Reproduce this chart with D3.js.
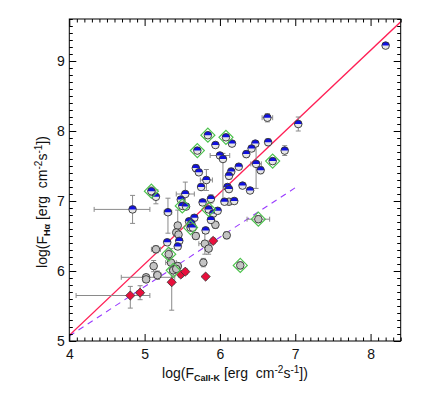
<!DOCTYPE html>
<html><head><meta charset="utf-8">
<script src="https://cdn.jsdelivr.net/npm/d3@7/dist/d3.min.js"></script>
<style>body{margin:0;background:#fff}svg{display:block}</style>
</head><body>
<svg id="c" width="436" height="406"></svg>
<script>
// ---- data ----
const xTicks = [4, 5, 6, 7, 8];
const yTicks = [5, 6, 7, 8, 9];
// blue half-filled circles: x, y, x error, y error ([minus, plus] or symmetric)
const blueX = [8.20, 7.04, 6.63, 6.86, 6.64, 6.47, 6.42, 6.35, 6.48, 6.54, 6.70, 6.25, 6.30, 6.40,
  5.84, 6.08, 6.16, 5.94, 5.70, 6.00, 6.04, 6.15, 6.12, 6.10, 6.12, 5.68, 5.72, 5.82, 5.75, 5.88,
  5.77, 6.06, 6.19, 5.09, 5.15, 4.84, 5.31, 5.54, 5.48, 5.50, 5.55, 5.85, 5.91, 5.97, 5.88, 5.66,
  5.59, 5.62, 5.61, 5.64, 5.81, 5.30, 5.46, 5.44];
const blueY = [9.22, 8.10, 8.19, 7.72, 7.84, 7.82, 7.75, 7.67, 7.53, 7.44, 7.57, 7.49, 7.22, 7.15,
  7.94, 7.91, 7.82, 7.80, 7.72, 7.65, 7.60, 7.42, 7.36, 7.20, 7.17, 7.47, 7.41, 7.30, 7.20, 7.03,
  6.98, 6.99, 7.00, 7.14, 7.06, 6.88, 6.84, 7.10, 7.02, 6.93, 6.92, 6.88, 6.82, 6.86, 6.73, 6.76,
  6.71, 6.68, 6.62, 6.62, 6.58, 6.41, 6.43, 6.35];
const blueXErr = [0, 0.03, 0.07, 0.03, 0.03, 0.03, 0.03, 0.03, 0.07, 0.03, 0.03, 0.03, 0.03, 0.03,
  0.03, 0.03, 0.03, 0.03, 0.03, 0.13, 0.03, 0.03, 0.03, 0.03, 0.03, 0.03, 0.03, 0.08, 0.03, 0.03,
  0.03, 0.03, 0.03, 0.04, 0.03, [0.51, 0.23], 0.05, 0.12, 0.03, 0.03, 0.03, 0.03, 0.03, 0.03, 0.03, 0.03,
  0.03, 0.03, 0.03, 0.03, 0.03, 0.03, 0.03, 0.03];
const blueYErr = [0, 0.10, 0.06, 0.07, 0.05, 0.04, 0.04, 0.05, [0.35, 0.25], 0.05, 0.04, 0.04, 0.04, 0.04,
  0.04, 0.04, 0.03, 0.03, 0.03, 0.03, [0.6, 0.08], 0.05, 0.05, 0.04, 0.04, 0.05, 0.04, 0.15, 0.04, 0.06,
  0.04, 0.03, 0.03, 0.06, 0.10, 0.20, [0.3, 0.2], 0.17, 0.04, 0.04, 0.04, 0.04, 0.04, 0.04, 0.04, 0.04,
  0.04, 0.04, 0.04, 0.04, 0.04, 0.04, 0.04, 0.04];
// grey circles
const greyX = [6.12, 5.44, 5.42, 5.45, 5.68, 5.94, 6.09, 5.80, 5.85, 5.15, 5.32, 5.78, 5.35, 5.12,
  5.44, 5.38, 5.42, 5.17, 5.02, 5.02, 6.51, 6.27];
const greyY = [6.99, 6.65, 6.55, 6.52, 6.50, 6.66, 6.51, 6.39, 6.32, 6.31, 6.24, 6.12, 6.12, 6.07,
  6.07, 6.01, 6.03, 5.94, 5.91, 5.88, 6.74, 6.08];
const greyXErr = [0.03, 0.03, 0.03, 0.03, 0.03, 0.03, 0.03, 0.08, 0.04, 0.06, 0.03, 0.03, 0.07, 0.03,
  0.04, 0.05, 0.03, 0.05, [0.33, 0.38], 0.03, 0.15, 0.03];
const greyYErr = [0.03, [0.05, 0.22], 0.05, 0.05, 0.05, 0.05, 0.05, 0.15, 0.08, 0.05, 0.06, 0.06, [0.1, 0.2], 0.08,
  0.05, 0.08, 0.05, 0.06, 0.04, 0.04, 0.05, 0.05];
// red diamonds
const redX = [4.81, 4.94, 5.36, 5.48, 5.54, 5.81, 5.91];
const redY = [5.65, 5.69, 5.84, 5.95, 5.99, 5.92, 6.43];
const redXErr = [[0.72, 0.26], 0.04, 0.03, 0.03, 0.03, 0, 0.03];
const redYErr = [[0.18, 0.13], 0.10, [0.4, 0.16], 0.04, 0.04, 0, 0.04];
// green open diamonds (highlighted objects)
const greenX = [5.09, 5.84, 6.08, 5.70, 6.70, 5.50, 5.85, 5.61, 5.32, 5.38, 6.51, 6.27];
const greenY = [7.14, 7.94, 7.91, 7.72, 7.57, 6.93, 6.88, 6.62, 6.24, 6.01, 6.74, 6.08];
// fit lines
const fitRedX = [4.0, 8.4];
const fitRedY = [5.08, 9.56];
const fitPurpleX = [4.0, 7.0];
const fitPurpleY = [5.07, 7.19];

// ---- drawing ----
const svg = d3.select("#c");
const L = 69.3, R = 400.7, T = 19, B = 341;
const x = d3.scaleLinear().domain([4, 8.4]).range([L, R]);
const y = d3.scaleLinear().domain([5, 9.6]).range([B, T]);
const font = "'Liberation Sans', Arial, Helvetica, sans-serif";

svg.append("defs").append("clipPath").attr("id", "clp")
  .append("rect").attr("x", L).attr("y", T).attr("width", R - L).attr("height", B - T);

const minorX = d3.range(40, 85).map(v => v / 10).filter(v => !xTicks.includes(v));
const minorY = d3.range(50, 97).map(v => v / 10).filter(v => v <= 9.6 && !yTicks.includes(v));

function axes() {
  const g = svg.append("g").attr("font-family", font);
  const mk = (axisFn, scale, vals, size, tx, ty, labels) => {
    const a = axisFn(scale).tickValues(vals).tickSize(size).tickPadding(labels ? 8 : 0)
      .tickFormat(labels ? d3.format("d") : () => "");
    const gg = g.append("g").attr("transform", `translate(${tx},${ty})`).call(a);
    gg.select(".domain").remove();
    gg.selectAll("line").attr("stroke", "#000").attr("stroke-width", 1);
    gg.selectAll("text").attr("font-size", 14).attr("fill", "#111").attr("font-family", font);
    return gg;
  };
  mk(d3.axisBottom, x, xTicks, -7, 0, B, true);
  mk(d3.axisBottom, x, minorX, -3.5, 0, B, false);
  mk(d3.axisTop, x, xTicks, -7, 0, T, false);
  mk(d3.axisTop, x, minorX, -3.5, 0, T, false);
  const ly = mk(d3.axisLeft, y, yTicks, -7, L, 0, true);
  ly.selectAll("text").attr("x", -4.5);
  mk(d3.axisLeft, y, minorY, -3.5, L, 0, false);
  mk(d3.axisRight, y, yTicks, -7, R, 0, false);
  mk(d3.axisRight, y, minorY, -3.5, R, 0, false);
  svg.append("rect").attr("x", L).attr("y", T).attr("width", R - L).attr("height", B - T)
    .attr("fill", "none").attr("stroke", "#000").attr("stroke-width", 1);
}

// fit lines
const line = d3.line().x(d => x(d[0])).y(d => y(d[1]));
const plot = svg.append("g").attr("clip-path", "url(#clp)");
plot.append("path").datum(fitRedX.map((v, i) => [v, fitRedY[i]])).attr("d", line)
  .attr("fill", "none").attr("stroke", "#ff1f55").attr("stroke-width", 1.3);
plot.append("path").datum(fitPurpleX.map((v, i) => [v, fitPurpleY[i]])).attr("d", line)
  .attr("fill", "none").attr("stroke", "#9a3cff").attr("stroke-width", 1.1).attr("stroke-dasharray", "6,5");

function pts(xs, ys, xe, ye) {
  return xs.map((v, i) => {
    const ex = Array.isArray(xe[i]) ? xe[i] : [xe[i], xe[i]];
    const ey = Array.isArray(ye[i]) ? ye[i] : [ye[i], ye[i]];
    return { x: v, y: ys[i], ex, ey };
  });
}
const blue = pts(blueX, blueY, blueXErr, blueYErr);
const grey = pts(greyX, greyY, greyXErr, greyYErr);
const red = pts(redX, redY, redXErr, redYErr);

const eg = plot.append("g").attr("stroke", "#8a8a8a").attr("stroke-width", 1).attr("fill", "none");
const cap = 2.5;
[...blue, ...grey, ...red].forEach(d => {
  const cx = x(d.x), cy = y(d.y);
  if (d.ex[0] || d.ex[1]) {
    const x0 = x(d.x - d.ex[0]), x1 = x(d.x + d.ex[1]);
    eg.append("line").attr("x1", x0).attr("x2", x1).attr("y1", cy).attr("y2", cy);
    eg.append("line").attr("x1", x0).attr("x2", x0).attr("y1", cy - cap).attr("y2", cy + cap);
    eg.append("line").attr("x1", x1).attr("x2", x1).attr("y1", cy - cap).attr("y2", cy + cap);
  }
  if (d.ey[0] || d.ey[1]) {
    const y0 = y(d.y - d.ey[0]), y1 = y(d.y + d.ey[1]);
    eg.append("line").attr("x1", cx).attr("x2", cx).attr("y1", y0).attr("y2", y1);
    eg.append("line").attr("x1", cx - cap).attr("x2", cx + cap).attr("y1", y0).attr("y2", y0);
    eg.append("line").attr("x1", cx - cap).attr("x2", cx + cap).attr("y1", y1).attr("y2", y1);
  }
});

const r = 3.8;
const gg = plot.append("g");
grey.forEach(d => {
  gg.append("circle").attr("cx", x(d.x)).attr("cy", y(d.y)).attr("r", r)
    .attr("fill", "#c4c4c4").attr("stroke", "#333").attr("stroke-width", 0.9);
});
blue.forEach(d => {
  const cx = x(d.x), cy = y(d.y);
  gg.append("circle").attr("cx", cx).attr("cy", cy).attr("r", r).attr("fill", "#e6e6e6");
  gg.append("path").attr("d", `M${cx - r},${cy} A${r},${r} 0 0 1 ${cx + r},${cy} Z`).attr("fill", "#1010e0");
  gg.append("circle").attr("cx", cx).attr("cy", cy).attr("r", r)
    .attr("fill", "none").attr("stroke", "#333").attr("stroke-width", 0.9);
});
const dia = (s) => `M0,${-s} L${s},0 L0,${s} L${-s},0 Z`;
red.forEach(d => {
  gg.append("path").attr("d", dia(4.6)).attr("transform", `translate(${x(d.x)},${y(d.y)})`)
    .attr("fill", "#e8103c").attr("stroke", "#333").attr("stroke-width", 0.8);
});
greenX.forEach((v, i) => {
  gg.append("path").attr("d", dia(7)).attr("transform", `translate(${x(v)},${y(greenY[i])})`)
    .attr("fill", "none").attr("stroke", "#4cc24c").attr("stroke-width", 1.2);
});

axes();

// axis titles
const sp = "\u00a0";
function title(t, sub) {
  t.append("tspan").text("log(F");
  t.append("tspan").text(sub).attr("font-size", 9).attr("font-weight", "bold").attr("dy", 3);
  t.append("tspan").text(sp + "[erg" + sp + sp + "cm").attr("dy", -3);
  t.append("tspan").text("-2").attr("font-size", 10).attr("dy", -5);
  t.append("tspan").text("s").attr("dy", 5);
  t.append("tspan").text("-1").attr("font-size", 10).attr("dy", -5);
  t.append("tspan").text("])").attr("dy", 5);
}
const xt = svg.append("text").attr("x", (L + R) / 2).attr("y", 378).attr("text-anchor", "middle")
  .attr("font-family", font).attr("font-size", 14).attr("fill", "#111");
title(xt, "CaII-K");

const yt = svg.append("text").attr("transform", `translate(47,${(T + B) / 2 + 22}) rotate(-90)`)
  .attr("text-anchor", "middle").attr("font-family", font).attr("font-size", 14).attr("fill", "#111");
title(yt, "Hα");
</script>
</body></html>
